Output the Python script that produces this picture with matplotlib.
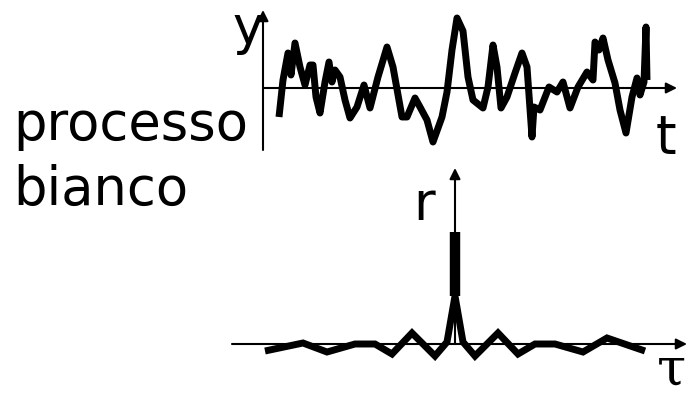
import matplotlib.pyplot as plt

# top: a realisation of the white process (time, value)
t = [16, 20, 25, 28, 32, 37, 42, 47, 50, 53, 57, 62, 66, 69, 72, 77, 82, 87, 94, 101,
     107, 115, 124, 130, 139, 144, 152, 157, 164, 170, 179, 184, 189, 194, 200, 205,
     210, 220, 225, 230, 234, 238, 244, 252, 259, 264, 269, 271, 277, 286, 294, 300,
     307, 315, 324, 330, 332, 336, 340, 345, 352, 357, 363, 369, 374, 377, 381, 383, 384]
y = [-29, 8, 35, 13, 45, 21, 3, 23, 23, -9, -25, 6, 26, 6, 18, 11, -12, -30, -19, 3,
     -20, 11, 41, 21, -29, -29, -10, -19, -32, -54, -29, -4, 38, 70, 57, 11,
     -12, -20, 1, 43, 21, -20, -9, 15, 35, 21, -49, -19, -22, 1, -4, 6,
     -20, 1, 16, 8, 46, 38, 50, 28, 5, -22, -45, -9, 10, -7, 6, 61, 8]

# bottom: autocorrelation (lag, value) plus the impulse at lag 0
tau = [-190, -152, -128, -100, -80, -63, -43, -20, -8, 0, 8, 20, 43, 63, 80, 100, 128, 152, 190]
r = [-7, 1, -8, 0, 0, -10, 11, -12, 2, 48, 2, -12, 11, -10, 0, 0, -8, 6, -7]
r_peak = 112

W, H = 689, 395
fig = plt.figure(figsize=(W / 100, H / 100), dpi=100)
fs = 38
arrow = dict(arrowstyle='-|>', color='black', lw=1.5, mutation_scale=16, shrinkA=0, shrinkB=0)

# top axes: origin at pixel (263, 88)
ax1 = fig.add_axes([263 / W, 1 - 150 / H, 414 / W, 140 / H])
ax1.set_xlim(0, 414)
ax1.set_ylim(-62, 78)
ax1.axis('off')
ax1.annotate('', xy=(0, 78), xytext=(0, -62), arrowprops=arrow, annotation_clip=False)
ax1.annotate('', xy=(414, 0), xytext=(0, 0), arrowprops=arrow, annotation_clip=False)
ax1.plot(t, y, color='black', lw=5, solid_joinstyle='round', solid_capstyle='butt', clip_on=False)
ax1.text(-31, 44, 'y', fontsize=fs, ha='left', va='baseline')
ax1.text(393, -65, 't', fontsize=fs, ha='left', va='baseline')

# bottom axes: origin at pixel (455, 344)
ax2 = fig.add_axes([232 / W, 1 - 360 / H, 455 / W, 192 / H])
ax2.set_xlim(-223, 232)
ax2.set_ylim(-16, 176)
ax2.axis('off')
ax2.annotate('', xy=(0, 176), xytext=(0, 0), arrowprops=arrow, annotation_clip=False)
ax2.annotate('', xy=(232, 0), xytext=(-223, 0), arrowprops=arrow, annotation_clip=False)
ax2.plot(tau, r, color='black', lw=5, solid_joinstyle='miter', solid_capstyle='butt', clip_on=False)
ax2.vlines(0, r[tau.index(0)], r_peak, color='black', lw=7.5)
ax2.text(-42, 124, 'r', fontsize=fs, ha='left', va='baseline')
ax2.text(202, -40, 'τ', fontsize=fs, ha='left', va='baseline', family='DejaVu Serif')

fig.text(13 / W, 1 - 140 / H, 'processo', fontsize=fs, ha='left', va='baseline')
fig.text(13 / W, 1 - 205 / H, 'bianco', fontsize=fs, ha='left', va='baseline')

fig.savefig('out.png', dpi=100)
